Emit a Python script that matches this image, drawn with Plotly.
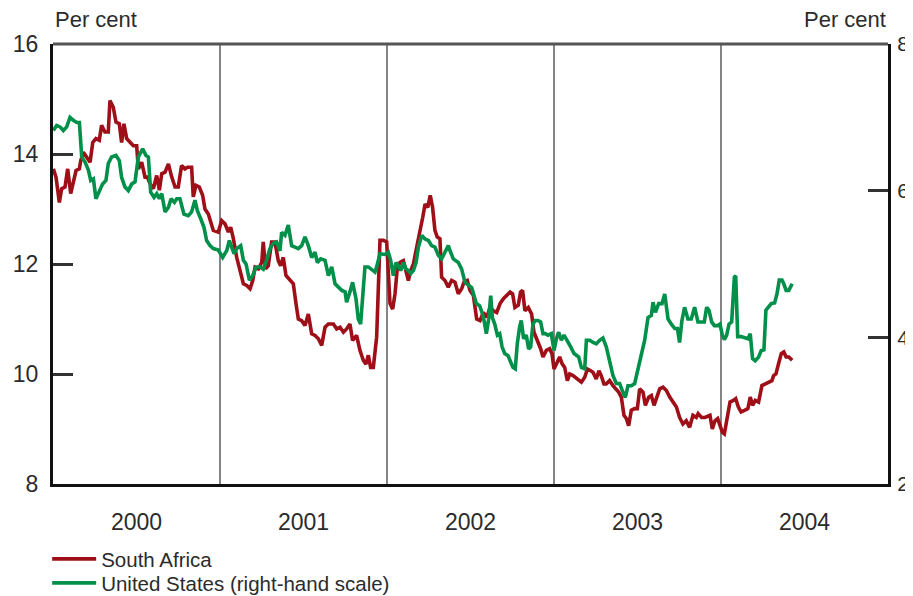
import plotly.graph_objects as go

# ---- data (decimal years, per cent) ----
sa_t = [0.002,0.018,0.038,0.052,0.072,0.088,0.106,0.122,0.138,0.158,0.166,0.182,0.202,0.222,0.238,0.257,0.277,0.291,0.311,0.331,
        0.341,0.361,0.377,0.397,0.411,0.425,0.441,0.461,0.481,0.501,0.511,0.531,0.551,0.565,0.581,0.601,0.621,0.637,0.651,0.671,
        0.691,0.711,0.731,0.750,0.770,0.790,0.806,0.830,0.840,0.856,0.876,0.896,0.910,0.930,0.960,0.990,1.010,1.030,1.050,1.064,
        1.080,1.100,1.120,1.140,1.160,1.180,1.196,1.210,1.230,1.250,1.259,1.273,1.289,1.309,1.329,1.349,1.363,1.379,1.395,1.419,
        1.439,1.455,1.469,1.489,1.509,1.529,1.549,1.569,1.589,1.609,1.629,1.649,1.679,1.699,1.719,1.739,1.758,1.778,1.794,1.818,
        1.838,1.858,1.874,1.888,1.902,1.918,1.938,1.958,1.978,1.998,2.018,2.034,2.048,2.062,2.078,2.098,2.114,2.128,2.142,2.158,
        2.174,2.194,2.214,2.228,2.244,2.259,2.273,2.287,2.301,2.317,2.327,2.347,2.367,2.387,2.407,2.427,2.447,2.461,2.481,2.497,
        2.517,2.537,2.557,2.577,2.597,2.617,2.637,2.657,2.677,2.697,2.717,2.737,2.752,2.766,2.786,2.800,2.812,2.826,2.846,2.866,
        2.880,2.904,2.920,2.934,2.954,2.974,2.988,3.000,3.014,3.034,3.048,3.064,3.080,3.094,3.114,3.128,3.144,3.164,3.184,3.200,
        3.220,3.234,3.253,3.269,3.283,3.299,3.313,3.333,3.353,3.373,3.387,3.403,3.419,3.433,3.447,3.463,3.483,3.499,3.513,3.533,
        3.547,3.567,3.583,3.599,3.613,3.633,3.653,3.673,3.693,3.713,3.733,3.752,3.772,3.792,3.812,3.832,3.852,3.863,3.884,3.904,
        3.934,3.948,3.964,3.980,3.994,4.008,4.020,4.034,4.054,4.074,4.088,4.104,4.120,4.141,4.161,4.175,4.189,4.205,4.225,4.245,
        4.265,4.285,4.305,4.315,4.329,4.345,4.361,4.376,4.390,4.406,4.426]
sa_val = [13.73,13.58,13.12,13.37,13.40,13.73,13.28,13.52,13.70,13.73,13.88,14.03,13.94,13.85,14.21,14.28,14.25,14.52,14.40,14.40,
          14.97,14.85,14.58,14.55,14.21,14.55,14.28,14.21,14.15,14.15,13.73,13.85,13.58,13.58,13.46,13.37,13.61,13.34,13.64,13.67,
          13.82,13.58,13.40,13.40,13.79,13.73,13.76,13.76,13.22,13.43,13.40,13.25,13.00,12.91,12.61,12.58,12.79,12.73,12.58,12.67,
          12.46,12.12,11.85,11.64,11.61,11.55,11.70,11.94,11.91,12.03,12.40,11.91,11.97,12.40,12.40,12.06,11.97,12.12,11.79,11.70,
          11.64,11.28,11.00,10.97,10.88,11.09,10.73,10.70,10.64,10.52,10.85,10.91,10.91,10.82,10.85,10.76,10.82,10.91,10.61,10.70,
          10.43,10.25,10.18,10.34,10.12,10.12,10.67,12.43,12.43,12.40,11.28,11.18,11.46,11.94,12.03,12.06,11.88,11.70,11.88,12.00,
          12.25,12.52,12.85,13.09,13.03,13.25,13.03,12.61,12.49,12.46,11.76,11.70,11.58,11.70,11.67,11.46,11.55,11.67,11.70,11.52,
          11.43,11.00,10.97,11.12,11.03,11.21,11.15,11.12,11.28,11.37,11.43,11.49,11.46,11.21,11.25,11.49,11.52,11.15,11.21,11.09,
          10.76,10.58,10.46,10.31,10.43,10.46,10.37,10.09,10.19,10.31,10.19,10.12,9.88,10.00,9.97,9.94,9.91,9.85,9.94,10.09,
          10.06,10.03,9.91,10.06,9.97,9.82,9.82,9.88,9.79,9.73,9.67,9.58,9.25,9.19,9.06,9.34,9.37,9.37,9.73,9.67,
          9.43,9.58,9.61,9.43,9.55,9.73,9.76,9.70,9.58,9.49,9.40,9.21,9.09,9.15,9.03,9.25,9.21,9.28,9.21,9.21,
          9.25,9.00,9.15,9.19,9.06,8.94,8.91,9.15,9.49,9.52,9.55,9.40,9.31,9.34,9.37,9.58,9.43,9.52,9.49,9.79,
          9.82,9.85,9.88,9.97,10.00,10.19,10.37,10.40,10.31,10.31,10.25]

us_t = [0.002,0.022,0.042,0.062,0.082,0.102,0.122,0.142,0.158,0.172,0.192,0.212,0.226,0.242,0.257,0.277,0.297,0.317,0.331,0.351,
        0.377,0.397,0.411,0.431,0.451,0.471,0.491,0.511,0.537,0.557,0.571,0.585,0.605,0.621,0.637,0.651,0.671,0.691,0.707,0.727,
        0.741,0.760,0.784,0.810,0.830,0.850,0.864,0.884,0.904,0.920,0.940,0.960,0.990,1.016,1.040,1.056,1.070,1.084,1.100,1.124,
        1.140,1.156,1.176,1.196,1.216,1.240,1.259,1.279,1.299,1.319,1.339,1.359,1.369,1.389,1.409,1.429,1.449,1.469,1.489,1.509,
        1.529,1.549,1.569,1.583,1.603,1.629,1.649,1.669,1.689,1.709,1.729,1.749,1.758,1.778,1.794,1.814,1.828,1.842,1.868,1.888,
        1.908,1.928,1.938,1.958,1.988,2.008,2.022,2.038,2.054,2.068,2.082,2.098,2.114,2.128,2.142,2.158,2.174,2.188,2.208,2.228,
        2.248,2.267,2.287,2.307,2.327,2.347,2.367,2.381,2.397,2.427,2.447,2.467,2.487,2.507,2.535,2.555,2.569,2.581,2.595,2.609,
        2.621,2.631,2.645,2.661,2.675,2.689,2.705,2.725,2.741,2.754,2.768,2.780,2.794,2.804,2.818,2.834,2.848,2.860,2.874,2.888,
        2.904,2.920,2.934,2.948,2.964,2.984,3.000,3.014,3.028,3.044,3.060,3.080,3.100,3.120,3.134,3.148,3.164,3.184,3.194,3.214,
        3.234,3.253,3.273,3.293,3.313,3.333,3.353,3.373,3.393,3.413,3.427,3.443,3.463,3.483,3.503,3.523,3.543,3.563,3.583,3.593,
        3.607,3.627,3.647,3.663,3.683,3.703,3.723,3.739,3.752,3.766,3.782,3.802,3.822,3.842,3.862,3.884,3.900,3.914,3.928,3.944,
        3.960,3.980,3.994,4.008,4.020,4.034,4.048,4.064,4.080,4.088,4.100,4.120,4.141,4.161,4.175,4.189,4.205,4.225,4.241,4.257,
        4.269,4.285,4.301,4.321,4.335,4.349,4.365,4.376,4.390,4.406,4.426]
us_val = [6.82,6.89,6.87,6.82,6.87,7.00,6.96,6.93,6.93,6.46,6.39,6.28,6.14,6.16,5.89,5.98,6.09,6.14,6.37,6.46,
          6.48,6.41,6.18,6.05,6.00,6.09,6.12,6.46,6.57,6.48,6.46,5.98,5.91,5.96,5.89,5.96,5.71,5.77,5.89,5.84,
          5.89,5.89,5.68,5.66,5.71,5.87,5.73,5.62,5.50,5.32,5.25,5.21,5.19,5.09,5.18,5.32,5.23,5.14,5.21,5.25,
          5.05,5.00,4.78,4.84,4.96,4.96,4.93,5.05,5.21,5.28,5.30,5.18,5.43,5.39,5.53,5.25,5.23,5.21,5.25,5.37,
          5.25,5.09,5.16,5.02,5.07,5.05,4.84,4.96,4.73,4.68,4.64,4.62,4.48,4.62,4.75,4.53,4.25,4.18,4.96,4.96,
          4.93,4.89,4.96,5.14,5.13,5.16,5.05,4.84,5.02,4.98,4.91,5.02,4.93,4.91,4.87,4.91,5.02,5.23,5.39,5.34,
          5.32,5.25,5.23,5.12,5.07,5.16,5.25,5.16,5.07,5.02,4.93,4.75,4.71,4.68,4.46,4.43,4.34,4.23,4.05,4.25,
          4.57,4.27,4.18,4.03,4.05,3.87,3.78,3.75,3.66,3.59,3.57,3.91,4.14,4.23,3.98,4.03,3.84,3.87,4.18,4.23,
          4.23,4.21,4.05,4.05,4.03,4.05,3.82,3.98,4.07,3.96,4.03,3.96,3.87,3.78,3.75,3.73,3.59,3.57,3.96,3.96,
          3.93,3.91,3.96,3.99,3.87,3.68,3.48,3.37,3.37,3.25,3.18,3.34,3.34,3.37,3.55,3.75,3.96,4.27,4.30,4.48,
          4.34,4.46,4.46,4.59,4.25,4.18,4.12,4.12,3.93,4.23,4.41,4.25,4.25,4.41,4.21,4.21,4.21,4.41,4.37,4.21,
          4.16,4.16,4.18,4.03,3.97,4.03,4.18,4.21,4.82,4.84,4.01,4.01,3.99,3.98,4.05,3.71,3.68,3.73,3.82,3.83,
          4.37,4.41,4.46,4.47,4.59,4.78,4.78,4.73,4.64,4.64,4.73]

years = [2000, 2001, 2002, 2003, 2004]
year_labels = ["2000", "2001", "2002", "2003", "2004"]
left_ticks = [8, 10, 12, 14, 16]
right_ticks = [2, 4, 6, 8]

RED = "#9e0f18"
GREEN = "#00904a"
TXT = "#2b2b2b"
FONT = "Liberation Sans"

fig = go.Figure()
fig.add_trace(go.Scatter(x=[2000 + t for t in sa_t], y=sa_val, mode="lines", name="South Africa",
                         line=dict(color=RED, width=3.6), yaxis="y", legend="legend"))
fig.add_trace(go.Scatter(x=[2000 + t for t in us_t], y=us_val, mode="lines",
                         name="United States (right-hand scale)",
                         line=dict(color=GREEN, width=3.6), yaxis="y2", legend="legend2"))

shapes = []
for yv in years[1:]:
    shapes.append(dict(type="line", xref="x", yref="paper", x0=yv, x1=yv, y0=0, y1=1,
                       line=dict(color="#333333", width=1.2), layer="below"))
shapes.append(dict(type="line", xref="paper", yref="paper", x0=0, x1=1, y0=1, y1=1,
                   line=dict(color="#555555", width=3)))

leg_common = dict(xanchor="left", yanchor="middle", orientation="v",
                  font=dict(size=20.5, color=TXT, family=FONT), bgcolor="rgba(0,0,0,0)",
                  itemwidth=44, borderwidth=0)

# page body has an 8px margin, so the figure is sized 8px smaller than the window
fig.update_layout(
    width=905, height=588,
    margin=dict(l=45, r=25, t=36, b=112, autoexpand=False),
    paper_bgcolor="white", plot_bgcolor="white",
    font=dict(family=FONT, size=23, color=TXT),
    showlegend=True,
    legend=dict(x=-0.007, y=-0.1705, **leg_common),
    legend2=dict(x=-0.007, y=-0.2250, **leg_common),
    xaxis=dict(range=[2000, 2005], showgrid=False, zeroline=False, automargin=False,
               tickvals=[y + 0.5 for y in years], ticktext=year_labels, ticks="",
               showline=True, linecolor="#111111", linewidth=3,
               tickfont=dict(size=23, color=TXT), ticklabelstandoff=15),
    yaxis=dict(range=[8, 16], tickvals=left_ticks, showgrid=False, zeroline=False, automargin=False,
               ticks="inside", ticklen=20, tickwidth=2.5, tickcolor="#333333",
               showline=True, linecolor="#111111", linewidth=3,
               tickfont=dict(size=23, color=TXT), ticklabelstandoff=7),
    yaxis2=dict(range=[2, 8], tickvals=right_ticks, overlaying="y", side="right",
                showgrid=False, zeroline=False, automargin=False,
                ticks="inside", ticklen=20, tickwidth=2.5, tickcolor="#333333",
                showline=True, linecolor="#111111", linewidth=3,
                tickfont=dict(size=21, color=TXT), ticklabelstandoff=2),
    shapes=shapes,
    annotations=[
        dict(text="Per cent", xref="paper", yref="paper", x=0, y=1, xanchor="left",
             yanchor="bottom", yshift=10, showarrow=False, font=dict(size=22, color=TXT)),
        dict(text="Per cent", xref="paper", yref="paper", x=1, y=1, xanchor="right",
             yanchor="bottom", yshift=10, showarrow=False, font=dict(size=22, color=TXT)),
    ],
)

fig.write_html("out.html")
